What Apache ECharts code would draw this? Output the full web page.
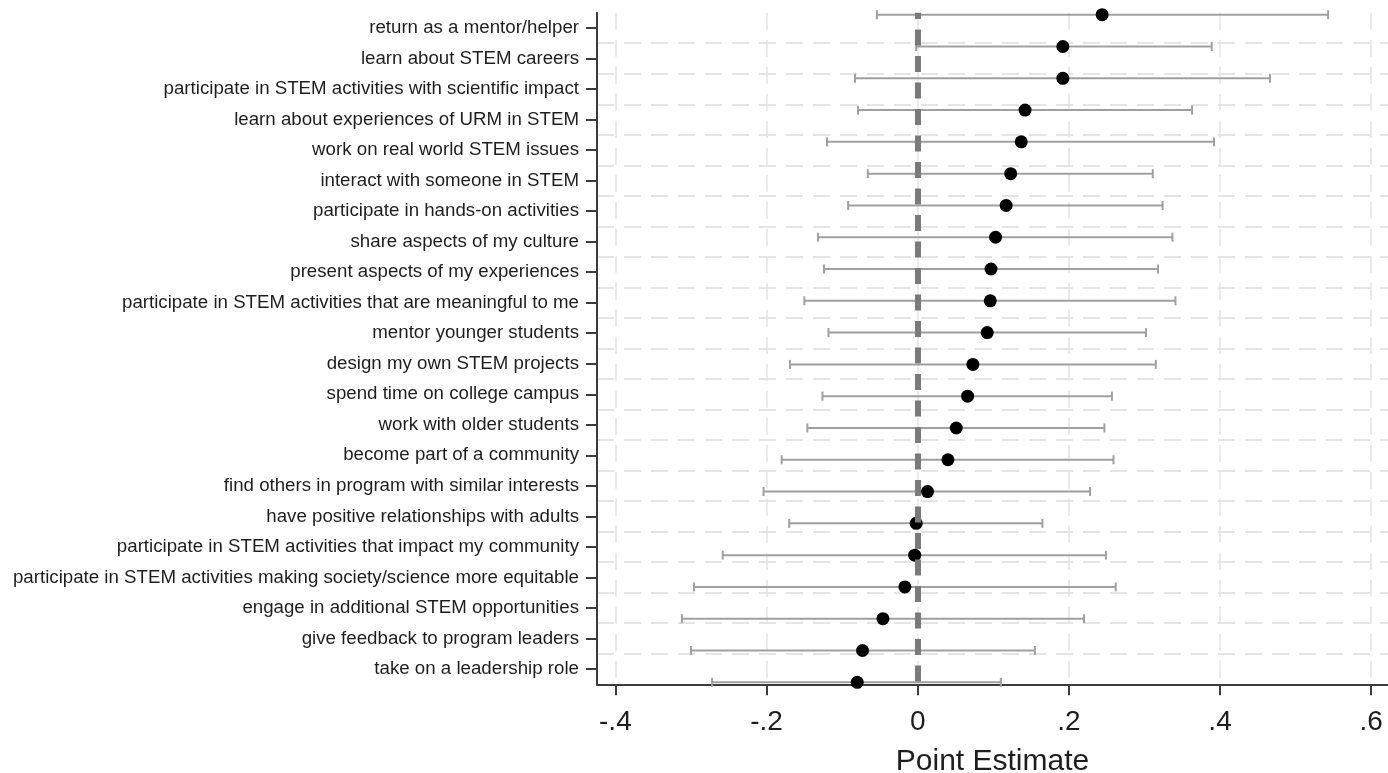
<!DOCTYPE html>
<html><head><meta charset="utf-8">
<script src="https://cdn.jsdelivr.net/npm/echarts@6/dist/echarts.min.js"></script>
<style>html,body{margin:0;padding:0;background:#fff}#c{width:1388px;height:773px}</style>
</head><body><div id="c"></div>
<script>
const categories = [
  "return as a mentor/helper",
  "learn about STEM careers",
  "participate in STEM activities with scientific impact",
  "learn about experiences of URM in STEM",
  "work on real world STEM issues",
  "interact with someone in STEM",
  "participate in hands-on activities",
  "share aspects of my culture",
  "present aspects of my experiences",
  "participate in STEM activities that are meaningful to me",
  "mentor younger students",
  "design my own STEM projects",
  "spend time on college campus",
  "work with older students",
  "become part of a community",
  "find others in program with similar interests",
  "have positive relationships with adults",
  "participate in STEM activities that impact my community",
  "participate in STEM activities making society/science more equitable",
  "engage in additional STEM opportunities",
  "give feedback to program leaders",
  "take on a leadership role"
];
const estimates = [0.244, 0.192, 0.192, 0.142, 0.137, 0.123, 0.117, 0.103, 0.097, 0.096, 0.092,
  0.073, 0.066, 0.051, 0.040, 0.013, -0.002, -0.004, -0.017, -0.046, -0.073, -0.080];
const lowerCI = [-0.054, -0.002, -0.083, -0.079, -0.120, -0.066, -0.092, -0.132, -0.124, -0.150, -0.118,
  -0.169, -0.126, -0.146, -0.180, -0.204, -0.170, -0.258, -0.296, -0.312, -0.300, -0.272];
const upperCI = [0.543, 0.389, 0.466, 0.363, 0.392, 0.311, 0.324, 0.337, 0.318, 0.341, 0.302,
  0.315, 0.257, 0.247, 0.259, 0.228, 0.165, 0.249, 0.262, 0.220, 0.155, 0.110];
const xTicks = [-0.4, -0.2, 0, 0.2, 0.4, 0.6];
const xTitle = "Point Estimate";

const ciData = categories.map((c, i) => [lowerCI[i], upperCI[i], i]);
const ptData = categories.map((c, i) => [estimates[i], i]);
const fmt = v => { if (Math.abs(v) < 1e-9) return '0'; const s = Math.abs(v).toFixed(1).replace(/^0/, ''); return (v < 0 ? '-' : '') + s; };

const axisColor = '#3c3c3c';
const font = "'Liberation Sans', Arial, sans-serif";
const chart = echarts.init(document.getElementById('c'), null, {renderer: 'canvas'});
chart.setOption({
  animation: false,
  backgroundColor: '#ffffff',
  textStyle: {fontFamily: font},
  grid: {left: 597, right: 0, top: 12.7, height: 671.6, containLabel: false, outerBoundsMode: 'none'},
  xAxis: {
    type: 'value', min: -0.4243, max: 0.6222,
    axisLine: {show: true, onZero: false, lineStyle: {color: axisColor, width: 2}},
    axisTick: {show: true, customValues: xTicks, length: 11, lineStyle: {color: axisColor, width: 2}},
    axisLabel: {customValues: xTicks, formatter: fmt, fontSize: 28, color: '#1e1e1e', margin: 24, fontFamily: font},
    splitLine: {show: true, lineStyle: {color: '#e3e3e3', width: 1.5, type: [17, 10]}},
    name: xTitle, nameLocation: 'middle', nameGap: 62,
    nameTextStyle: {fontSize: 30, color: '#1e1e1e', fontFamily: font}
  },
  yAxis: [{
    type: 'category', data: categories, inverse: true, boundaryGap: true,
    axisLine: {show: true, onZero: false, lineStyle: {color: axisColor, width: 2}},
    axisTick: {show: true, alignWithLabel: true, length: 11, lineStyle: {color: axisColor, width: 2}},
    axisLabel: {fontSize: 18.7, color: '#1e1e1e', margin: 18, fontFamily: font},
    splitLine: {show: true, showMinLine: false, showMaxLine: false, lineStyle: {color: '#dcdcdc', width: 1.5, type: [17, 10]}}
  }, {
    type: 'value', inverse: true, min: -0.063, max: 21.063, show: false,
    splitLine: {show: false}, axisLine: {onZero: false}
  }],
  series: [{
    type: 'custom', yAxisIndex: 1, z: 2, clip: false,
    encode: {x: [0, 1], y: 2},
    data: ciData,
    renderItem: function (params, api) {
      const y = api.value(2);
      const a = api.coord([api.value(0), y]);
      const b = api.coord([api.value(1), y]);
      const h = 4.5;
      const style = {stroke: '#a0a0a0', lineWidth: 2};
      return {type: 'group', children: [
        {type: 'line', shape: {x1: a[0], y1: a[1], x2: b[0], y2: b[1]}, style: style},
        {type: 'line', shape: {x1: a[0], y1: a[1] - h, x2: a[0], y2: a[1] + h}, style: style},
        {type: 'line', shape: {x1: b[0], y1: b[1] - h, x2: b[0], y2: b[1] + h}, style: style}
      ]};
    }
  }, {
    type: 'line', yAxisIndex: 1, z: 3, data: [], silent: true,
    markLine: {
      silent: true, symbol: 'none', label: {show: false},
      lineStyle: {color: '#7a7a7a', width: 6, type: [16, 10.5], dashOffset: 9.6},
      emphasis: {disabled: true},
      data: [{xAxis: 0}]
    }
  }, {
    type: 'scatter', yAxisIndex: 1, z: 4, data: ptData,
    symbol: 'circle', symbolSize: 13,
    itemStyle: {color: '#000000', opacity: 1}
  }]
});
</script>
</body></html>
